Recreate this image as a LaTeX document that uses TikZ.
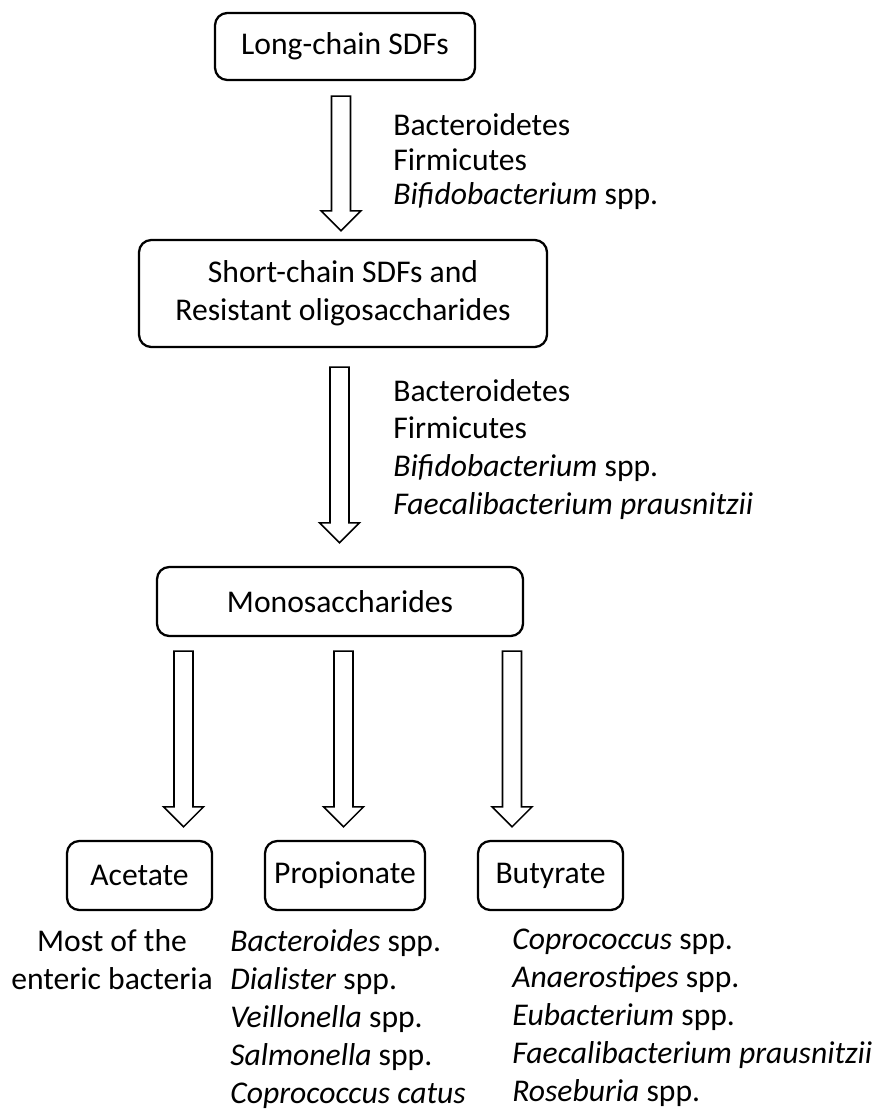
\documentclass[tikz,border=0pt]{standalone}
\usepackage{fontspec}
\setmainfont{Carlito}
\usetikzlibrary{positioning,calc}

% hollow block arrow: #1 = top of the shaft, #2 = tip
\newcommand{\hollowarrow}[2]{%
  \draw[arrowline] let \p1=#1, \p2=#2 in
    (\x1-0.19cm,\y1) -- (\x1+0.19cm,\y1) -- (\x1+0.19cm,\y2+0.4cm)
    -- (\x1+0.4cm,\y2+0.4cm) -- (\x1,\y2) -- (\x1-0.4cm,\y2+0.4cm)
    -- (\x1-0.19cm,\y2+0.4cm) -- cycle;}

\begin{document}
\begin{tikzpicture}[
  box/.style={draw, line width=1.3pt, rounded corners=7pt, align=center,
              inner sep=0pt, minimum height=1.38cm,
              font=\fontsize{18}{21.6}\selectfont},
  arrowline/.style={draw, line width=0.9pt, fill=white, line join=miter},
  lbl/.style={inner sep=0pt, align=left, font=\fontsize{18}{21.6}\selectfont},
  lbltight/.style={lbl, font=\fontsize{18}{19.6}\selectfont},
]
\useasboundingbox (0,0) rectangle (17.52,-22.2);

% ---- Boxes ----
\node[box, minimum width=5.2cm, minimum height=1.34cm] (lchain) at (6.9,-0.93) {Long-chain SDFs};
\node[box, minimum width=8.16cm, minimum height=2.14cm] (schain) at (6.86,-5.87)
  {Short-chain SDFs and\\Resistant oligosaccharides};
\node[box, minimum width=7.32cm] (mono) at (6.8,-12.03) {Monosaccharides};
\node[box, minimum width=2.9cm] (acet) at (2.79,-17.51) {Acetate};
\node[box, minimum width=3.2cm] (prop) at (6.9,-17.51) {Propionate};
\node[box, minimum width=2.9cm] (buty) at (11.01,-17.51) {Butyrate};

% ---- Arrows ----
\hollowarrow{([xshift=-0.08cm,yshift=-0.3cm]lchain.south)}{([yshift=0.16cm]schain.north)}
\hollowarrow{([xshift=-0.07cm,yshift=-0.38cm]schain.south)}{([yshift=0.46cm]mono.north)}
\hollowarrow{([xshift=-3.13cm,yshift=-0.28cm]mono.south)}{([yshift=0.26cm]acet.north)}
\hollowarrow{([xshift=0.07cm,yshift=-0.28cm]mono.south)}{([yshift=0.26cm]prop.north)}
\hollowarrow{([xshift=3.44cm,yshift=-0.28cm]mono.south)}{([yshift=0.26cm]buty.north)}

% ---- Bacteria labels ----
\node[lbltight, anchor=west] (bugsA) at (7.86,-3.24)
  {Bacteroidetes\\Firmicutes\\\textit{Bifidobacterium} spp.};
\node[lbl, anchor=west] (bugsB) at (7.86,-8.99)
  {Bacteroidetes\\Firmicutes\\\textit{Bifidobacterium} spp.\\\textit{Faecalibacterium prausnitzii}};

\node[lbl, align=center, anchor=north] (acetbugs) at (2.24,-18.58)
  {Most of the\\enteric bacteria};
\node[lbl, anchor=north west] (propbugs) at (4.6,-18.58)
  {\textit{Bacteroides} spp.\\\textit{Dialister} spp.\\\textit{Veillonella} spp.\\\textit{Salmonella} spp.\\\textit{Coprococcus catus}};
\node[lbl, anchor=north west] (butybugs) at (10.24,-18.58)
  {\textit{Coprococcus} spp.\\\textit{Anaerostipes} spp.\\\textit{Eubacterium} spp.\\\textit{Faecalibacterium prausnitzii}\\\textit{Roseburia} spp.};
\end{tikzpicture}
\end{document}
